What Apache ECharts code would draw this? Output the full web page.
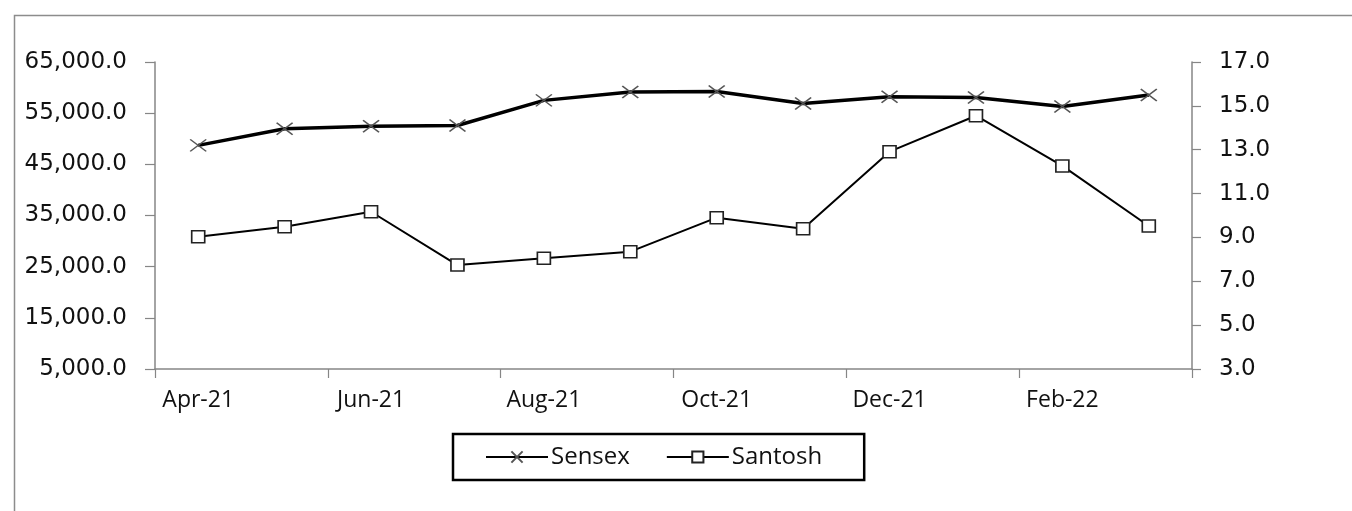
<!DOCTYPE html>
<html>
<head>
<meta charset="utf-8">
<script src="https://cdn.jsdelivr.net/npm/echarts@6/dist/echarts.min.js"></script>
<style>
  html, body { margin: 0; padding: 0; background: #fff; }
  #container1 { width: 1352px; height: 511px; }
</style>
</head>
<body>
<div id="container1"></div>
<script>
// months on the category axis
var months = ['Apr-21', 'May-21', 'Jun-21', 'Jul-21', 'Aug-21', 'Sep-21',
              'Oct-21', 'Nov-21', 'Dec-21', 'Jan-22', 'Feb-22', 'Mar-22'];
// Sensex close (left axis)
var sensex = [48700, 51950, 52450, 52600, 57500, 59150, 59250, 56900, 58200, 58050, 56300, 58550];
// Santosh (right axis)
var santosh = [9.03, 9.49, 10.17, 7.74, 8.05, 8.35, 9.9, 9.4, 12.91, 14.55, 12.26, 9.52];

var axisGray = '#868686';
var numFont = 'DejaVu Sans';
var txtFont = 'Open Sans';

var myChart = echarts.init(document.getElementById('container1'));
var option = {
    backgroundColor: '#fff',
    animation: false,
    graphic: [{
        type: 'rect',
        left: 12, top: 13,
        shape: { width: 1400, height: 600 },
        style: { fill: 'none', stroke: '#8c8c8c', lineWidth: 1.5 },
        silent: true
    }],
    legend: {
        data: ['Sensex', 'Santosh'],
        left: 453, top: 434,
        padding: [11, 42, 11, 32],
        borderColor: '#000',
        borderWidth: 2.5,
        itemWidth: 62,
        itemHeight: 14,
        itemGap: 36,
        textStyle: { fontFamily: txtFont, fontSize: 24, color: '#111', padding: [0, 0, 0, -2] }
    },
    grid: { left: 155, right: 160, top: 62, bottom: 142, containLabel: false },
    xAxis: {
        type: 'category',
        data: months,
        boundaryGap: true,
        axisLine: { lineStyle: { color: axisGray, width: 1.5 } },
        axisTick: { show: true, interval: 1, length: 9, lineStyle: { color: axisGray, width: 1.2 } },
        axisLabel: { interval: 1, margin: 20, fontFamily: txtFont, fontSize: 23, color: '#111' },
        splitLine: { show: false }
    },
    yAxis: [{
        type: 'value',
        min: 5000, max: 65000, interval: 10000,
        axisLine: { show: true, lineStyle: { color: axisGray, width: 1.5 } },
        axisTick: { show: true, length: 10, lineStyle: { color: axisGray, width: 1.2 } },
        axisLabel: {
            margin: 28, fontFamily: numFont, fontSize: 23, color: '#111',
            formatter: function (v) {
                return v.toLocaleString('en-US', { minimumFractionDigits: 1, maximumFractionDigits: 1 });
            }
        },
        splitLine: { show: false }
    }, {
        type: 'value',
        position: 'right',
        min: 3, max: 17, interval: 2,
        axisLine: { show: true, lineStyle: { color: axisGray, width: 1.5 } },
        axisTick: { show: true, length: 9, lineStyle: { color: axisGray, width: 1.2 } },
        axisLabel: {
            margin: 27, fontFamily: numFont, fontSize: 23, color: '#111',
            formatter: function (v) { return v.toFixed(1); }
        },
        splitLine: { show: false }
    }],
    series: [{
        name: 'Sensex',
        type: 'line',
        yAxisIndex: 0,
        data: sensex,
        symbol: 'path://M0,0L10,10M10,0L0,10',
        symbolSize: [16, 12],
        showAllSymbol: true,
        lineStyle: { color: '#000', width: 3.5 },
        itemStyle: { color: 'none', borderColor: '#555', borderWidth: 1.5 },
        z: 3
    }, {
        name: 'Santosh',
        type: 'line',
        yAxisIndex: 1,
        data: santosh,
        symbol: 'rect',
        symbolSize: [13, 12],
        showAllSymbol: true,
        lineStyle: { color: '#000', width: 2 },
        itemStyle: { color: '#fff', borderColor: '#222', borderWidth: 1.6 },
        z: 2
    }]
};
myChart.setOption(option, true);
</script>
</body>
</html>
